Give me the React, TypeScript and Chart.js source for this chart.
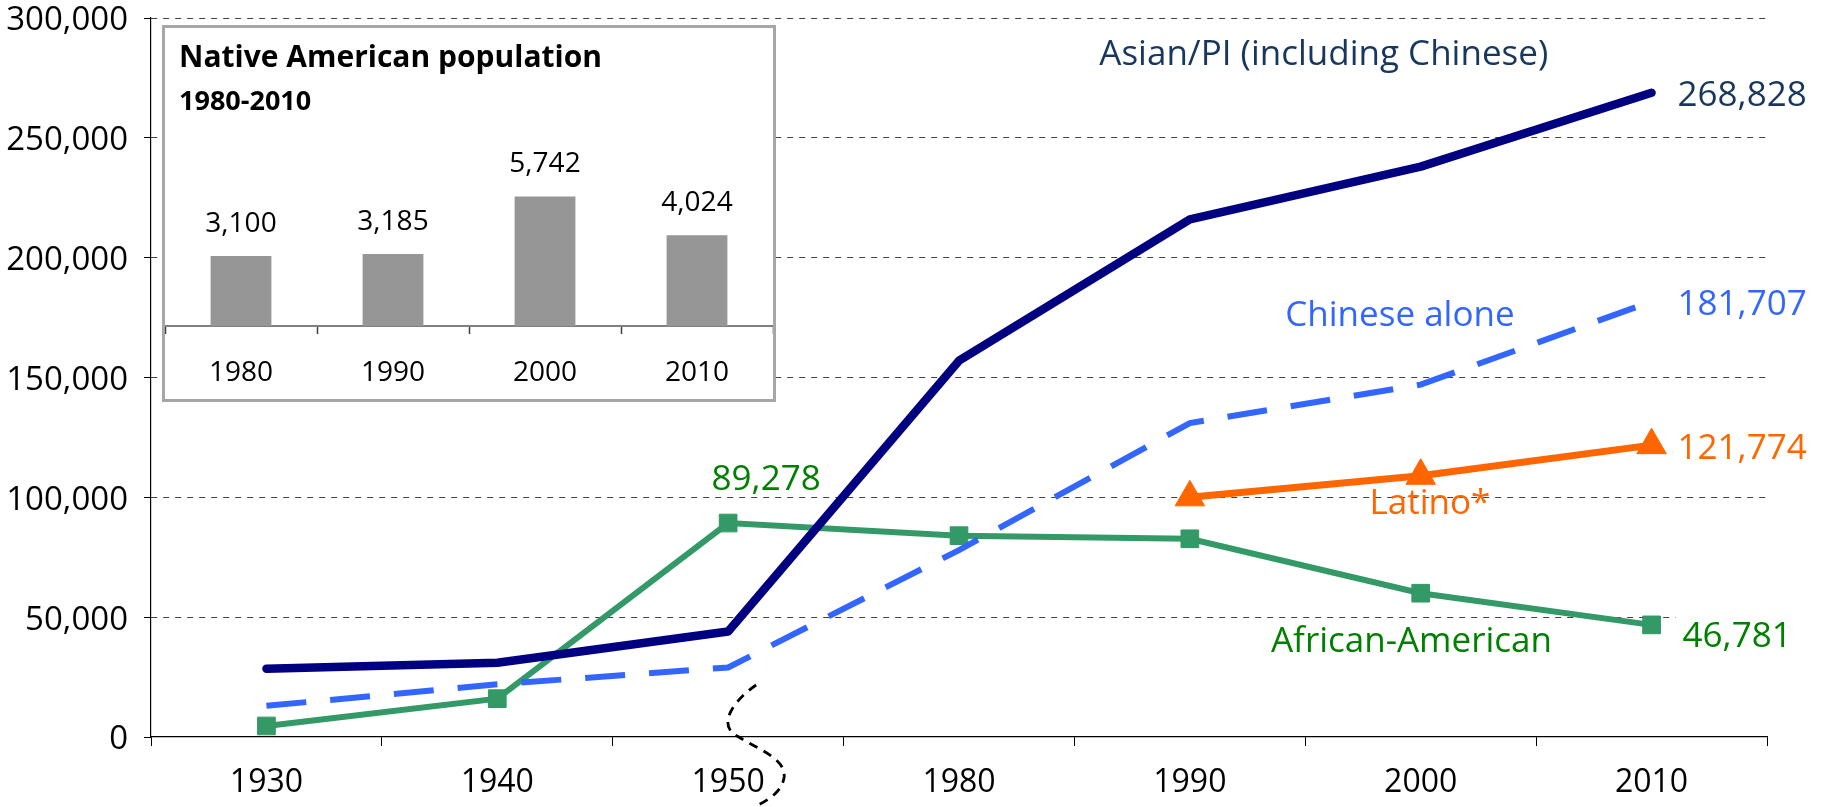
import React, { useEffect, useRef } from 'react';
import { Chart, registerables } from 'chart.js';

Chart.register(...registerables);

const FONT = "'Open Sans', 'Noto Sans', sans-serif";

// ---- main chart data ----
const years = ['1930', '1940', '1950', '1980', '1990', '2000', '2010'];
const asianPI = [28500, 31000, 44000, 157000, 216000, 238000, 268828];
const chineseAlone = [13000, 22000, 29000, 78000, 131000, 147000, 181707];
const africanAmerican = [4600, 16000, 89278, 84000, 82700, 60000, 46781];
const latino = [null, null, null, null, 100000, 109000, 121774];
const yAxisMin = 0;
const yAxisMax = 300000;
const yAxisStep = 50000;
const seriesNames = ['Asian/PI (including Chinese)', 'Chinese alone', 'African-American', 'Latino*'];

// ---- inset data ----
const nativeYears = ['1980', '1990', '2000', '2010'];
const nativeValues = [3100, 3185, 5742, 4024];
const insetTitle = 'Native American population';
const insetSubtitle = '1980-2010';

// ---- styles ----
const NAVY = '#000080';
const NAVY_TEXT = '#17375E';
const BLUE = '#3366FF';
const GREEN = '#339966';
const GREEN_TEXT = '#008000';
const ORANGE = '#FF6600';

const fmt = (v: number) => v.toLocaleString('en-US');

// series-name labels, placed in data space (category index, value)
const nameLabels = [
  { text: seriesNames[0], at: 4.58, value: 284600, color: NAVY_TEXT },
  { text: seriesNames[1], at: 4.91, value: 175600, color: BLUE },
  { text: seriesNames[2], at: 4.96, value: 39650, color: GREEN_TEXT },
  { text: seriesNames[3], at: 5.04, value: 97400, color: ORANGE },
];

// value labels anchored to data points
const valueLabels = [
  { dataset: 0, index: 6, dx: 26, dy: 3, align: 'left', color: NAVY_TEXT, bg: false },
  { dataset: 1, index: 6, dx: 26, dy: 3.5, align: 'left', color: BLUE, bg: false },
  { dataset: 3, index: 6, dx: 26, dy: 4, align: 'left', color: ORANGE, bg: false },
  { dataset: 2, index: 6, dx: 31, dy: 12, align: 'left', color: GREEN_TEXT, bg: true },
  { dataset: 2, index: 2, dx: 38, dy: -43, align: 'center', color: GREEN_TEXT, bg: false },
];

const annotationPlugin = {
  id: 'annotations',
  afterDatasetsDraw(chart: any) {
    const { ctx, scales } = chart;
    const x = scales.x;
    const y = scales.y;
    ctx.save();
    ctx.font = `35px ${FONT}`;
    ctx.textBaseline = 'middle';
    for (const l of nameLabels) {
      ctx.fillStyle = l.color;
      ctx.textAlign = 'center';
      ctx.fillText(l.text, x.getPixelForValue(l.at), y.getPixelForValue(l.value));
    }
    for (const v of valueLabels) {
      const pt = chart.getDatasetMeta(v.dataset).data[v.index];
      const val = chart.data.datasets[v.dataset].data[v.index];
      const text = fmt(val);
      const tx = pt.x + v.dx;
      const ty = pt.y + v.dy;
      const w = ctx.measureText(text).width;
      if (v.bg) {
        const left = v.align === 'left' ? tx - 7 : tx - w / 2 - 7;
        ctx.fillStyle = '#ffffff';
        ctx.fillRect(left, ty - 22, w + 14, 42);
      }
      ctx.fillStyle = v.color;
      ctx.textAlign = v.align;
      ctx.fillText(text, tx, ty);
    }
    ctx.restore();
  },
  afterDraw(chart: any) {
    // axis-break mark between 1950 and 1980
    const { ctx, scales } = chart;
    const bx = scales.x.getPixelForValue(2);
    const by = chart.chartArea.bottom;
    ctx.save();
    ctx.strokeStyle = '#000';
    ctx.lineWidth = 2.8;
    ctx.setLineDash([9, 7]);
    ctx.beginPath();
    ctx.moveTo(bx + 28, by - 52);
    ctx.bezierCurveTo(bx + 6, by - 37, bx - 12, by - 12, bx + 9, by - 1);
    ctx.bezierCurveTo(bx + 27, by + 11, bx + 58, by + 21, bx + 56, by + 40);
    ctx.bezierCurveTo(bx + 54, by + 55, bx + 40, by + 63, bx + 28, by + 69);
    ctx.stroke();
    ctx.restore();
  },
};

const insetPlugin = {
  id: 'insetText',
  afterDatasetsDraw(chart: any) {
    const { ctx } = chart;
    ctx.save();
    ctx.fillStyle = '#000';
    ctx.textBaseline = 'middle';
    ctx.textAlign = 'left';
    ctx.font = `bold 30px ${FONT}`;
    ctx.fillText(insetTitle, 14, 30);
    ctx.font = `bold 27px ${FONT}`;
    ctx.fillText(insetSubtitle, 14, 74);
    ctx.font = `28px ${FONT}`;
    ctx.textAlign = 'center';
    const meta = chart.getDatasetMeta(0);
    meta.data.forEach((bar: any, i: number) => {
      ctx.fillText(fmt(nativeValues[i]), bar.x, bar.y - 32);
    });
    ctx.restore();
  },
};

export default function App() {
  const mainRef = useRef<HTMLCanvasElement | null>(null);
  const insetRef = useRef<HTMLCanvasElement | null>(null);

  useEffect(() => {
    if (!mainRef.current) return;
    const chart = new Chart(mainRef.current, {
      type: 'line',
      data: {
        labels: years,
        datasets: [
          {
            label: seriesNames[0],
            data: asianPI,
            borderColor: NAVY,
            backgroundColor: NAVY,
            borderWidth: 8.5,
            pointRadius: 0,
            borderCapStyle: 'round',
            borderJoinStyle: 'round',
            tension: 0,
          },
          {
            label: seriesNames[1],
            data: chineseAlone,
            borderColor: BLUE,
            backgroundColor: BLUE,
            borderWidth: 6,
            borderDash: [40, 24],
            pointRadius: 0,
            tension: 0,
          },
          {
            label: seriesNames[2],
            data: africanAmerican,
            borderColor: GREEN,
            backgroundColor: GREEN,
            borderWidth: 6,
            pointStyle: 'rect',
            pointRadius: 12.5,
            pointBorderWidth: 1,
            tension: 0,
          },
          {
            label: seriesNames[3],
            data: latino,
            borderColor: ORANGE,
            backgroundColor: ORANGE,
            borderWidth: 7,
            pointStyle: 'triangle',
            pointRadius: 17,
            pointBorderWidth: 1,
            tension: 0,
          },
        ],
      },
      options: {
        responsive: false,
        animation: false,
        devicePixelRatio: 1,
        events: [],
        layout: { padding: { top: 16, right: 63, left: 0, bottom: 0 } },
        plugins: { legend: { display: false }, tooltip: { enabled: false }, title: { display: false } },
        scales: {
          x: {
            type: 'category',
            offset: true,
            grid: {
              offset: true,
              drawOnChartArea: false,
              drawTicks: true,
              tickLength: 9,
              tickColor: '#000',
              tickWidth: 1,
              color: '#000',
            },
            border: { color: '#000', width: 1.2 },
            ticks: { font: { family: FONT, size: 32 }, color: '#000', padding: 18, maxRotation: 0, autoSkip: false },
            afterFit: (s: any) => {
              s.height = 70;
              s.paddingLeft = 0;
              s.paddingRight = 0;
            },
          },
          y: {
            min: yAxisMin,
            max: yAxisMax,
            grid: {
              color: (c: any) => (c.tick && c.tick.value === 0 ? 'rgba(0,0,0,0)' : '#404040'),
              lineWidth: 1,
              tickLength: 7,
              tickColor: '#000',
              tickWidth: 1,
            },
            border: { color: '#000', width: 1.2, dash: [6, 6] },
            ticks: {
              stepSize: yAxisStep,
              font: { family: FONT, size: 33 },
              color: '#000',
              padding: 16,
              labelOffset: 3,
              callback: (v: any) => fmt(Number(v)),
            },
            afterFit: (s: any) => {
              s.width = 151;
              s.paddingTop = 0;
              s.paddingBottom = 0;
            },
          },
        },
      },
      plugins: [annotationPlugin],
    } as any);
    return () => chart.destroy();
  }, []);

  useEffect(() => {
    if (!insetRef.current) return;
    const chart = new Chart(insetRef.current, {
      type: 'bar',
      data: {
        labels: nativeYears,
        datasets: [
          {
            label: insetTitle,
            data: nativeValues,
            backgroundColor: '#969696',
            borderWidth: 0,
            barPercentage: 0.4,
            categoryPercentage: 1.0,
          },
        ],
      },
      options: {
        responsive: false,
        animation: false,
        devicePixelRatio: 1,
        events: [],
        layout: { padding: { top: 140, left: 0, right: 0, bottom: 0 } },
        plugins: { legend: { display: false }, tooltip: { enabled: false } },
        scales: {
          x: {
            grid: {
              offset: true,
              drawOnChartArea: false,
              tickLength: 8,
              tickColor: '#404040',
              tickWidth: 1.5,
            },
            border: { color: '#7F7F7F', width: 2 },
            ticks: { font: { family: FONT, size: 28 }, color: '#000', padding: 22, maxRotation: 0 },
            afterFit: (s: any) => {
              s.height = 73;
              s.paddingLeft = 0;
              s.paddingRight = 0;
            },
          },
          y: { display: false, min: 0, max: 7000 },
        },
      },
      plugins: [insetPlugin],
    } as any);
    return () => chart.destroy();
  }, []);

  return (
    <div style={{ position: 'fixed', left: 0, top: 0, width: 1830, height: 807, background: '#fff', overflow: 'hidden' }}>
      <canvas
        ref={mainRef}
        width={1830}
        height={807}
        style={{ position: 'absolute', left: 0, top: 0, width: 1830, height: 807 }}
      />
      <div
        style={{
          position: 'absolute',
          left: 162,
          top: 25,
          width: 614,
          height: 377,
          boxSizing: 'border-box',
          border: '3px solid #A6A6A6',
          background: '#fff',
        }}
      >
        <canvas ref={insetRef} width={608} height={371} style={{ display: 'block', width: 608, height: 371 }} />
      </div>
    </div>
  );
}
